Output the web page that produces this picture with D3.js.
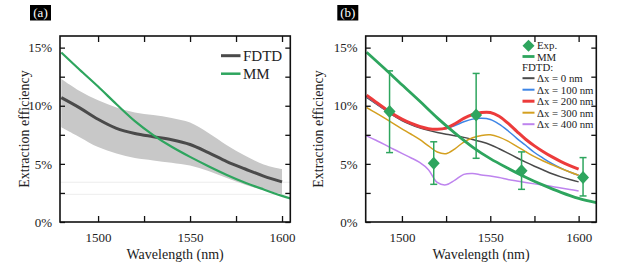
<!DOCTYPE html>
<html><head><meta charset="utf-8">
<script src="https://cdn.jsdelivr.net/npm/d3@7"></script>
<style>
html,body{margin:0;padding:0;background:#fff;}
svg{display:block;}
</style></head>
<body>
<svg id="chart" width="623" height="274" font-family="'Liberation Serif', Tinos, Times, 'DejaVu Serif', serif"></svg>
<script>
const FONT = "'Liberation Serif', Tinos, Times, 'DejaVu Serif', serif";
// ---------- data ----------
// panel (a)
const wlA = [1480,1490,1500,1510,1520,1530,1540,1550,1560,1570,1580,1590,1600];
const fdtdA = [10.7,9.82,8.84,8.06,7.62,7.34,7.08,6.67,5.97,5.2,4.56,3.95,3.45];
const fdtdUpperA = [12.3,11.27,10.47,9.85,9.43,9.2,8.95,8.55,7.65,6.6,5.7,4.95,4.55];
const fdtdLowerA = [8.15,7.3,6.45,5.9,5.5,5.3,5.1,4.85,4.38,3.78,3.2,2.75,2.38];
const wlMMA = [1480,1490,1500,1510,1520,1530,1540,1550,1560,1570,1580,1590,1600,1605];
const mmA = [14.58,13.1,11.65,10.13,8.68,7.48,6.47,5.6,4.8,4.05,3.38,2.8,2.25,2.0];
const faintLevelsA = [3.42,2.38];

// panel (b)
const wlB = [1480,1485,1490,1495,1500,1505,1510,1515,1520,1525,1530,1535,1540,1545,1550,1555,1560,1565,1570,1575,1580,1585,1590,1595,1600];
const dx0 = [10.72,10.2,9.68,9.17,8.73,8.38,8.1,7.88,7.7,7.55,7.42,7.28,7.1,6.9,6.65,6.3,5.92,5.53,5.15,4.8,4.47,4.15,3.88,3.65,3.45];
const dx100 = [10.8,10.25,9.72,9.22,8.8,8.45,8.18,8.03,7.98,8.05,8.3,8.62,8.85,8.92,8.82,8.42,7.85,7.2,6.6,5.98,5.48,5.02,4.63,4.3,4.02];
const dx200 = [10.91,10.35,9.8,9.28,8.85,8.5,8.22,8.03,7.98,8.08,8.45,8.92,9.25,9.42,9.42,9.1,8.5,7.8,7.12,6.55,6.05,5.6,5.2,4.85,4.54];
const dx300 = [9.85,9.4,8.95,8.48,8.02,7.57,7.1,6.55,6.02,5.88,6.3,6.88,7.25,7.45,7.5,7.3,6.95,6.5,6.05,5.62,5.25,4.92,4.6,4.3,4.02];
const dx400 = [7.41,7.05,6.68,6.28,5.9,5.53,5.12,4.5,3.4,3.2,3.6,4.1,4.18,4.05,3.95,3.82,3.66,3.53,3.4,3.28,3.17,3.06,2.93,2.8,2.67];
const wlMMB = [1480,1490,1500,1510,1520,1530,1540,1550,1560,1570,1580,1590,1600,1610];
const mmB = [14.6,13.22,11.8,10.4,8.96,7.65,6.45,5.45,4.62,3.85,3.17,2.55,2.03,1.66];
const expWl = [1493,1518,1542,1567.7,1602.5];
const expVal = [9.5,5.05,9.2,4.4,3.82];
const expLow = [5.97,3.24,5.48,2.81,2.24];
const expHigh = [13.0,6.9,12.78,6.03,5.54];

const xMajor = [1500,1550,1600];
const xMinor = [1525,1575];
const yMajor = [0,5,10,15];
const yMinor = [2.5,7.5,12.5];
const legendLabelsB = ["Δx = 0 nm","Δx = 100 nm","Δx = 200 nm","Δx = 300 nm","Δx = 400 nm"];

// ---------- style ----------
const GREEN = "#2ea55e";
const DARK = "#4a4a4a";
const seriesColors = ["#4a4a4a","#3d85e6","#ec3b3b","#d4a020","#be84ee"];
const seriesWidths = [1.5,1.5,3,1.5,1.5];

const svg = d3.select("#chart");

function txt(sel){ return sel.attr("font-family",FONT).attr("fill","#222"); }

function panel(cfg){
  const g = svg.append("g");
  const x = d3.scaleLinear().domain(cfg.xDomain).range([cfg.left,cfg.right]);
  const y = d3.scaleLinear().domain([0,16]).range([cfg.bottom,cfg.top]);
  const clipId = "clip"+cfg.name;
  svg.append("clipPath").attr("id",clipId).append("rect")
    .attr("x",cfg.left).attr("y",cfg.top).attr("width",cfg.right-cfg.left).attr("height",cfg.bottom-cfg.top);
  const plot = g.append("g").attr("clip-path",`url(#${clipId})`);

  const allX = xMajor.concat(xMinor).sort(d3.ascending);
  const allY = yMajor.concat(yMinor).sort(d3.ascending);
  const fmtX = d => xMajor.includes(d) ? String(d) : "";
  const fmtY = d => yMajor.includes(d) ? d + "%" : "";
  const axB = g.append("g").attr("transform",`translate(0,${cfg.bottom})`)
    .call(d3.axisBottom(x).tickValues(allX).tickFormat(fmtX).tickSizeInner(-6).tickSizeOuter(0).tickPadding(11));
  const axT = g.append("g").attr("transform",`translate(0,${cfg.top})`)
    .call(d3.axisTop(x).tickValues(allX).tickFormat("").tickSizeInner(-6).tickSizeOuter(0));
  const axL = g.append("g").attr("transform",`translate(${cfg.left},0)`)
    .call(d3.axisLeft(y).tickValues(allY).tickFormat(fmtY).tickSizeInner(-5).tickSizeOuter(0).tickPadding(8));
  const axR = g.append("g").attr("transform",`translate(${cfg.right},0)`)
    .call(d3.axisRight(y).tickValues(allY).tickFormat("").tickSizeInner(-5).tickSizeOuter(0));
  [axB,axT,axL,axR].forEach(a=>{
    a.attr("font-family",FONT);
    a.select(".domain").remove();
    a.selectAll(".tick line").attr("stroke","#111").attr("stroke-width",1.3);
    a.selectAll("text").attr("font-size",13).attr("fill","#222").attr("font-family",FONT);
  });
  g.append("rect").attr("x",cfg.left).attr("y",cfg.top)
    .attr("width",cfg.right-cfg.left).attr("height",cfg.bottom-cfg.top)
    .attr("fill","none").attr("stroke","#111").attr("stroke-width",1.6);

  txt(g.append("text")).attr("x",(cfg.left+cfg.right)/2).attr("y",259)
    .attr("text-anchor","middle").attr("font-size",14).text("Wavelength (nm)");
  txt(g.append("text")).attr("transform",`translate(${cfg.yTitleX},${(cfg.top+cfg.bottom)/2}) rotate(-90)`)
    .attr("text-anchor","middle").attr("font-size",14).text("Extraction efficiency");

  g.append("rect").attr("x",cfg.tagX).attr("y",5).attr("width",21).attr("height",15.5).attr("fill","#000");
  g.append("text").attr("x",cfg.tagX+10.5).attr("y",17).attr("text-anchor","middle").attr("font-family",FONT)
    .attr("font-size",13).attr("fill","#fff").text(cfg.tag);

  return {g,plot,x,y};
}

// ---------- panel (a) ----------
{
  const {g,plot,x,y} = panel({name:"a",xDomain:[1479.3,1604.5],left:60,right:290.3,top:36,bottom:222,yTitleX:29,tag:"(a)",tagX:30});
  plot.selectAll("line.faint").data(faintLevelsA).enter().append("line")
    .attr("x1",x.range()[0]).attr("x2",x.range()[1]).attr("y1",d=>y(d)).attr("y2",d=>y(d))
    .attr("stroke","#ededed").attr("stroke-width",1);
  const band = d3.area().x((d,i)=>x(wlA[i])).y0((d,i)=>y(fdtdLowerA[i])).y1((d,i)=>y(fdtdUpperA[i])).curve(d3.curveCatmullRom);
  plot.append("path").datum(wlA).attr("d",band).attr("fill","#c8c8c8");
  const lineF = d3.line().x((d,i)=>x(wlA[i])).y(d=>y(d)).curve(d3.curveCatmullRom);
  plot.append("path").datum(fdtdA).attr("d",lineF).attr("fill","none").attr("stroke",DARK).attr("stroke-width",3);
  const lineM = d3.line().x((d,i)=>x(wlMMA[i])).y(d=>y(d)).curve(d3.curveCatmullRom);
  plot.append("path").datum(mmA).attr("d",lineM).attr("fill","none").attr("stroke",GREEN).attr("stroke-width",2.2);
  const leg = g.append("g");
  [["FDTD",DARK,3],["MM",GREEN,2.5]].forEach((d,i)=>{
    const yy = 55.7 + i*18;
    leg.append("line").attr("x1",221).attr("x2",240.5).attr("y1",yy).attr("y2",yy).attr("stroke",d[1]).attr("stroke-width",d[2]);
    txt(leg.append("text")).attr("x",243).attr("y",yy+5).attr("font-size",15).text(d[0]);
  });
}

// ---------- panel (b) ----------
{
  const {g,plot,x,y} = panel({name:"b",xDomain:[1479.5,1610],left:365.7,right:596.3,top:36,bottom:222,yTitleX:322.5,tag:"(b)",tagX:337.3});
  const series = [dx0,dx100,dx200,dx300,dx400];
  const lineB = d3.line().x((d,i)=>x(wlB[i])).y(d=>y(d)).curve(d3.curveCatmullRom);
  series.forEach((s,k)=>{
    plot.append("path").datum(s).attr("d",lineB).attr("fill","none")
      .attr("stroke",seriesColors[k]).attr("stroke-width",seriesWidths[k]);
  });
  const lineM = d3.line().x((d,i)=>x(wlMMB[i])).y(d=>y(d)).curve(d3.curveCatmullRom);
  plot.append("path").datum(mmB).attr("d",lineM).attr("fill","none").attr("stroke",GREEN).attr("stroke-width",2.8);
  const eg = g.append("g");
  expWl.forEach((w,i)=>{
    const cx = x(w);
    eg.append("line").attr("x1",cx).attr("x2",cx).attr("y1",y(expLow[i])).attr("y2",y(expHigh[i])).attr("stroke",GREEN).attr("stroke-width",1.5);
    [expLow[i],expHigh[i]].forEach(v=>{
      eg.append("line").attr("x1",cx-3.5).attr("x2",cx+3.5).attr("y1",y(v)).attr("y2",y(v)).attr("stroke",GREEN).attr("stroke-width",1.5);
    });
    const cy = y(expVal[i]);
    eg.append("path").attr("d",`M${cx},${cy-6.5}L${cx+6},${cy}L${cx},${cy+6.5}L${cx-6},${cy}Z`).attr("fill",GREEN);
  });
  const leg = g.append("g");
  const lx1 = 522.5, lx2 = 534.5, tx = 537, fs = 10.8;
  leg.append("path").attr("d",`M528.5,${45.8-6}L${534.5},45.8L528.5,${45.8+6}L522.5,45.8Z`).attr("fill",GREEN);
  txt(leg.append("text")).attr("x",tx).attr("y",49.3).attr("font-size",fs).text("Exp.");
  leg.append("line").attr("x1",lx1).attr("x2",lx2).attr("y1",56.5).attr("y2",56.5).attr("stroke",GREEN).attr("stroke-width",2.8);
  txt(leg.append("text")).attr("x",tx).attr("y",60.5).attr("font-size",fs).text("MM");
  txt(leg.append("text")).attr("x",522).attr("y",71).attr("font-size",fs).text("FDTD:");
  legendLabelsB.forEach((t,k)=>{
    const yy = 78.2 + k*11.5;
    leg.append("line").attr("x1",lx1).attr("x2",lx2).attr("y1",yy).attr("y2",yy)
      .attr("stroke",seriesColors[k]).attr("stroke-width",seriesWidths[k]===3?3:2);
    txt(leg.append("text")).attr("x",tx).attr("y",yy+4).attr("font-size",fs).text(t);
  });
}
</script>
</body></html>
